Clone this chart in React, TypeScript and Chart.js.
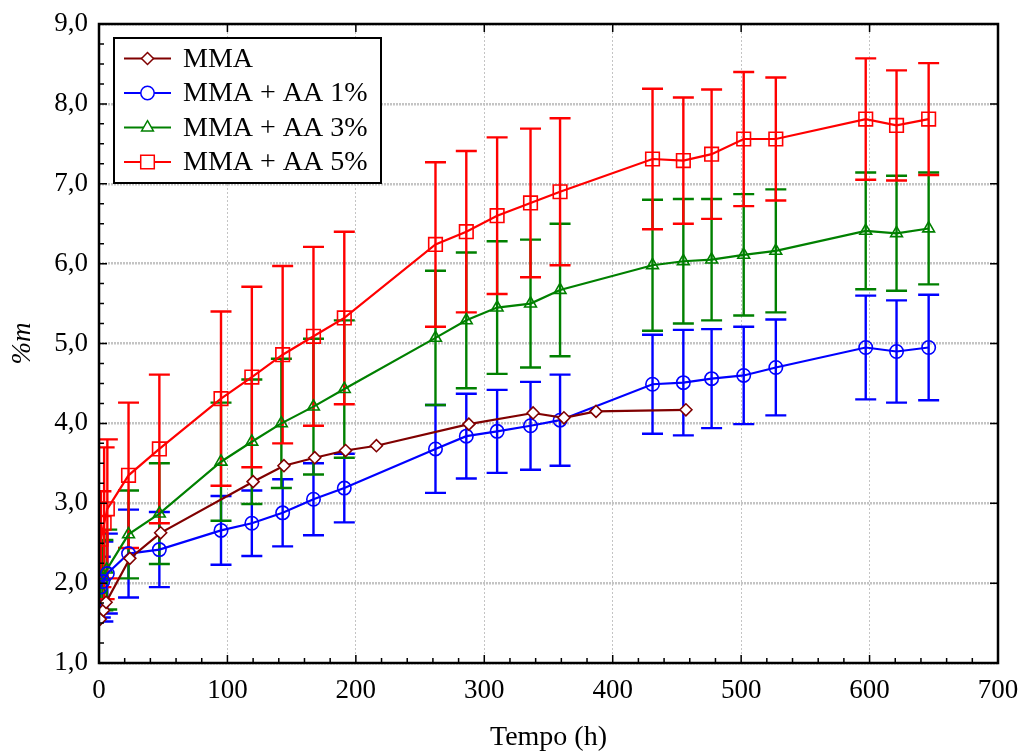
import React, { useEffect, useRef } from 'react';
import { Chart, registerables } from 'chart.js';

Chart.register(...registerables);

// ---------- data ----------
const SERIES_LABELS = ['MMA', 'MMA + AA 1%', 'MMA + AA 3%', 'MMA + AA 5%'];

const MMA_X = [1, 3.5, 5.5, 24, 48, 120, 144, 168, 192, 216, 288, 338, 362, 387, 457];
const MMA_Y = [1.55, 1.66, 1.76, 2.31, 2.63, 3.27, 3.47, 3.57, 3.66, 3.72, 3.99, 4.13, 4.07, 4.15, 4.17];

const AA1_X = [1, 3, 6.5, 23, 47, 95, 119, 143, 167, 191, 262, 286, 310, 336, 359, 431, 455, 477, 502, 527, 597, 621, 646];
const AA1_Y = [1.95, 2.02, 2.12, 2.37, 2.42, 2.66, 2.75, 2.88, 3.05, 3.19, 3.68, 3.84, 3.9, 3.97, 4.04, 4.49, 4.51, 4.56, 4.6, 4.7, 4.95, 4.9, 4.95];
const AA1_ERR = [0.38, 0.5, 0.5, 0.55, 0.47, 0.43, 0.41, 0.42, 0.45, 0.43, 0.55, 0.53, 0.52, 0.55, 0.57, 0.62, 0.66, 0.62, 0.61, 0.6, 0.65, 0.64, 0.66];

const AA3_X = [1, 3, 6, 23, 47, 95, 119, 142, 167, 191, 262, 286, 310, 336, 359, 431, 455, 477, 502, 527, 597, 621, 646];
const AA3_Y = [1.92, 2.1, 2.17, 2.61, 2.87, 3.52, 3.77, 4.0, 4.21, 4.43, 5.07, 5.29, 5.45, 5.5, 5.67, 5.98, 6.03, 6.05, 6.11, 6.16, 6.41, 6.38, 6.44];
const AA3_ERR = [0.12, 0.44, 0.5, 0.55, 0.63, 0.74, 0.78, 0.81, 0.85, 0.86, 0.84, 0.85, 0.83, 0.8, 0.83, 0.82, 0.78, 0.76, 0.76, 0.77, 0.73, 0.72, 0.7];

const AA5_X = [1.5, 4, 6.5, 23, 47, 95, 119, 143, 167, 191, 262, 286, 310, 336, 359, 431, 455, 477, 502, 527, 597, 621, 646];
const AA5_Y = [2.55, 2.75, 2.93, 3.35, 3.68, 4.31, 4.58, 4.86, 5.09, 5.32, 6.24, 6.4, 6.6, 6.76, 6.9, 7.31, 7.29, 7.37, 7.56, 7.56, 7.81, 7.73, 7.81];
const AA5_ERR = [0.6, 0.95, 0.87, 0.91, 0.93, 1.09, 1.13, 1.11, 1.12, 1.08, 1.03, 1.01, 0.98, 0.93, 0.92, 0.88, 0.79, 0.81, 0.84, 0.77, 0.76, 0.69, 0.7];

const X_TICK_LABELS = ['0', '100', '200', '300', '400', '500', '600', '700'];
const Y_TICK_LABELS = ['1,0', '2,0', '3,0', '4,0', '5,0', '6,0', '7,0', '8,0', '9,0'];
const X_TITLE = 'Tempo (h)';
const Y_TITLE = '%m';

// ---------- styling ----------
const FONT = '"Liberation Serif", "Times New Roman", serif';
const COLORS = ['#800000', '#0000ff', '#008000', '#ff0000'];
const STYLES = ['rectRot', 'circle', 'triangle', 'rect'];
const RADII = [6, 6.7, 6.8, 9.6];

function pts(xs: number[], ys: number[]) {
  return xs.map((x, i) => ({ x, y: ys[i] }));
}

function drawMarker(ctx: CanvasRenderingContext2D, style: string, x: number, y: number, r: number, stroke: string, fill: string | null) {
  ctx.beginPath();
  if (style === 'circle') {
    ctx.arc(x, y, r, 0, Math.PI * 2);
  } else if (style === 'rect') {
    const s = Math.SQRT1_2 * r;
    ctx.rect(x - s, y - s, 2 * s, 2 * s);
  } else if (style === 'rectRot') {
    ctx.moveTo(x - r, y);
    ctx.lineTo(x, y - r);
    ctx.lineTo(x + r, y);
    ctx.lineTo(x, y + r);
    ctx.closePath();
  } else if (style === 'triangle') {
    const w = r * Math.sin((2 * Math.PI) / 3);
    ctx.moveTo(x, y - r);
    ctx.lineTo(x + w, y + r / 2);
    ctx.lineTo(x - w, y + r / 2);
    ctx.closePath();
  }
  if (fill) {
    ctx.fillStyle = fill;
    ctx.fill();
  }
  ctx.strokeStyle = stroke;
  ctx.stroke();
}

const errorBarPlugin = {
  id: 'errorBars',
  beforeDatasetsDraw(chart: any) {
    const ctx = chart.ctx as CanvasRenderingContext2D;
    const ys = chart.scales.y;
    const { left, right, top, bottom } = chart.chartArea;
    const cap = 10.5;
    ctx.save();
    ctx.beginPath();
    ctx.rect(left, top, right - left, bottom - top);
    ctx.clip();
    chart.data.datasets.forEach((ds: any, i: number) => {
      if (!ds.errors) return;
      const meta = chart.getDatasetMeta(i);
      ctx.strokeStyle = ds.borderColor;
      ctx.lineWidth = 2.4;
      meta.data.forEach((el: any, j: number) => {
        const v = ds.data[j].y;
        const e = ds.errors[j];
        const x = el.x;
        const yt = ys.getPixelForValue(v + e);
        const yb = ys.getPixelForValue(v - e);
        ctx.beginPath();
        ctx.moveTo(x, yt);
        ctx.lineTo(x, yb);
        ctx.moveTo(x - cap, yt);
        ctx.lineTo(x + cap, yt);
        ctx.moveTo(x - cap, yb);
        ctx.lineTo(x + cap, yb);
        ctx.stroke();
      });
    });
    ctx.restore();
  },
};

const framePlugin = {
  id: 'frameTicks',
  afterDraw(chart: any) {
    const ctx = chart.ctx as CanvasRenderingContext2D;
    const { left, right, top, bottom } = chart.chartArea;
    const xs = chart.scales.x;
    const ys = chart.scales.y;
    ctx.save();
    ctx.strokeStyle = '#000';
    ctx.lineWidth = 1.5;
    ctx.beginPath();
    for (let v = xs.min; v <= xs.max + 1e-6; v += 20) {
      const px = xs.getPixelForValue(v);
      const major = Math.abs(v % 100) < 1e-6;
      const len = major ? 8 : 5;
      ctx.moveTo(px, bottom);
      ctx.lineTo(px, bottom - len);
      if (major) {
        ctx.moveTo(px, top);
        ctx.lineTo(px, top + len);
      }
    }
    for (let k = 0; k <= 32; k++) {
      const v = ys.min + k * 0.25;
      const py = ys.getPixelForValue(v);
      const major = k % 4 === 0;
      const len = major ? 8 : 5;
      ctx.moveTo(left, py);
      ctx.lineTo(left + len, py);
      if (major) {
        ctx.moveTo(right, py);
        ctx.lineTo(right - len, py);
      }
    }
    ctx.stroke();
    ctx.lineWidth = 2.5;
    ctx.strokeRect(left, top, right - left, bottom - top);
    ctx.restore();

    // legend
    const bx = 114, by = 38, bw = 267, bh = 145;
    ctx.save();
    ctx.fillStyle = '#fff';
    ctx.fillRect(bx, by, bw, bh);
    ctx.lineWidth = 2;
    ctx.strokeStyle = '#000';
    ctx.strokeRect(bx, by, bw, bh);
    chart.data.datasets.forEach((ds: any, i: number) => {
      const cy = 58.5 + i * 34.5;
      ctx.lineWidth = 2.2;
      ctx.strokeStyle = ds.borderColor;
      ctx.beginPath();
      ctx.moveTo(124, cy);
      ctx.lineTo(171, cy);
      ctx.stroke();
      ctx.lineWidth = 1.5;
      drawMarker(ctx, STYLES[i], 147.5, cy, RADII[i], ds.borderColor, '#fff');
      ctx.fillStyle = '#000';
      ctx.font = `28px ${FONT}`;
      ctx.textBaseline = 'middle';
      ctx.textAlign = 'left';
      ctx.fillText(ds.label, 183, cy + 1);
    });
    ctx.restore();
  },
};

export default function App() {
  const ref = useRef<HTMLCanvasElement | null>(null);

  useEffect(() => {
    document.body.style.margin = '0';
    const canvas = ref.current;
    if (!canvas) return;
    const series = [
      { xs: MMA_X, ys: MMA_Y, errs: null },
      { xs: AA1_X, ys: AA1_Y, errs: AA1_ERR },
      { xs: AA3_X, ys: AA3_Y, errs: AA3_ERR },
      { xs: AA5_X, ys: AA5_Y, errs: AA5_ERR },
    ];
    const datasets = series.map((s, i) => ({
      label: SERIES_LABELS[i],
      data: pts(s.xs, s.ys),
      errors: s.errs,
      borderColor: COLORS[i],
      backgroundColor: COLORS[i],
      borderWidth: 2.2,
      pointStyle: STYLES[i],
      pointRadius: RADII[i],
      pointBorderWidth: 1.6,
      pointBorderColor: COLORS[i],
      pointBackgroundColor: i === 0 ? '#ffffff' : 'rgba(0,0,0,0)',
      tension: 0,
      fill: false,
      clip: 0,
    }));

    const chart = new Chart(canvas, {
      type: 'line',
      data: { datasets } as any,
      options: {
        animation: false,
        responsive: false,
        devicePixelRatio: 1,
        layout: { padding: { left: 0, top: 24, right: 22, bottom: 0 } },
        plugins: { legend: { display: false }, tooltip: { enabled: false } },
        events: [],
        scales: {
          x: {
            type: 'linear',
            min: 0,
            max: 700,
            ticks: {
              stepSize: 100,
              padding: 12,
              color: '#000',
              font: { family: FONT, size: 27 },
              callback: (_v: any, idx: number) => X_TICK_LABELS[idx],
            },
            grid: { color: '#c4c4c4', lineWidth: 1, drawTicks: false },
            border: { display: false, dash: [2, 2] },
            title: {
              display: true,
              text: X_TITLE,
              color: '#000',
              font: { family: FONT, size: 28 },
              padding: { top: 0, bottom: -2 },
            },
            afterFit: (scale: any) => {
              scale.height = 89;
              scale.paddingLeft = 0;
              scale.paddingRight = 0;
            },
          },
          y: {
            type: 'linear',
            min: 1,
            max: 9,
            ticks: {
              stepSize: 1,
              padding: 11,
              color: '#000',
              font: { family: FONT, size: 27 },
              callback: (_v: any, idx: number) => Y_TICK_LABELS[idx],
            },
            grid: { color: '#c4c4c4', lineWidth: 2.5, drawTicks: false },
            border: { display: false, dash: [2, 1] },
            title: {
              display: true,
              text: Y_TITLE,
              color: '#000',
              font: { family: FONT, size: 27, style: 'italic' },
              padding: { top: 7, bottom: 0 },
            },
            afterFit: (scale: any) => {
              scale.width = 99;
              scale.paddingTop = 0;
              scale.paddingBottom = 0;
            },
          },
        },
      } as any,
      plugins: [errorBarPlugin, framePlugin],
    });
    return () => chart.destroy();
  }, []);

  return (
    <div style={{ width: 1020, height: 752, position: 'relative', background: '#fff' }}>
      <canvas ref={ref} width={1020} height={752} style={{ display: 'block' }} />
    </div>
  );
}
